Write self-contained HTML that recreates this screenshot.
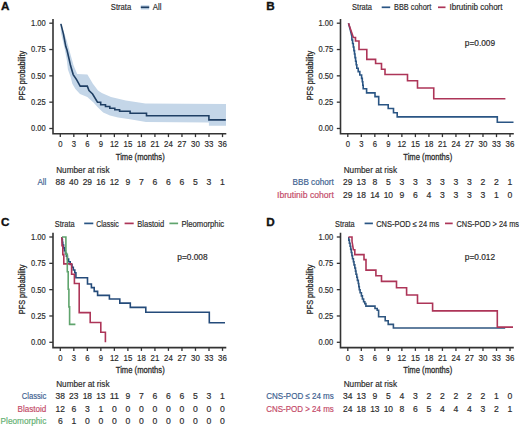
<!DOCTYPE html>
<html><head><meta charset="utf-8"><style>
html,body{margin:0;padding:0;background:#fff;}
body{width:520px;height:426px;overflow:hidden;}
svg{display:block;font-family:"Liberation Sans",sans-serif;}
</style></head><body>
<svg width="520" height="426" viewBox="0 0 520 426">
<rect width="520" height="426" fill="#fff"/>
<text x="1.00" y="9.60" font-size="11.7" fill="#111" font-weight="bold" stroke-width="0.35" stroke="#111">A</text>
<text x="110.80" y="10.40" font-size="8.4" fill="#2b2b2b" textLength="20.40" lengthAdjust="spacingAndGlyphs" stroke="#2b2b2b" stroke-width="0.18">Strata</text>
<rect x="140.80" y="5.20" width="8.40" height="4.4" fill="#c4d6e8"/>
<line x1="140.80" y1="7.30" x2="149.20" y2="7.30" stroke="#1f3f64" stroke-width="1.7"/>
<text x="152.80" y="10.40" font-size="8.4" fill="#2b2b2b" textLength="8.70" lengthAdjust="spacingAndGlyphs" stroke="#2b2b2b" stroke-width="0.18">All</text>
<polygon points="60.60,23.00 62.40,27.90 66.80,40.70 70.80,55.50 73.60,65.50 77.20,74.00 87.40,74.60 92.90,83.70 98.00,90.50 101.80,93.00 111.00,97.10 125.80,100.50 145.40,103.50 226.00,104.00 226.00,125.70 208.90,125.70 208.90,122.40 146.00,122.00 130.00,119.20 118.00,117.40 110.00,115.60 103.20,112.60 97.50,107.00 93.50,102.50 87.30,97.10 80.00,94.00 75.40,88.90 72.30,83.70 70.80,77.50 67.90,69.40 66.80,60.00 64.40,47.60 60.90,32.80 60.50,24.00" fill="#c4d6e8"/>
<path d="M60.9,23.9 L63.4,33.8 L65.8,46.6 L67,50 L69.3,60 L70.6,65.8 L73.2,74.6 L76.7,79.9 L80.2,86.1 H87.3 L89,90.5 L92.6,94 L97.5,102.2 H100.7 V104.8 H105.5 V106.5 H109.8 V108.2 H114.8 V109.8 H119.6 V111.3 H130.1 V113.2 H146.5 V115.7 H208.9 V119.9 H225.8" transform="translate(0,0)" fill="none" stroke="#1f3f64" stroke-width="1.6" stroke-linejoin="miter"/>
<path d="M53.00,19.00 V133.80 H226.30" fill="none" stroke="#333333" stroke-width="1.6"/>
<line x1="49.30" y1="23.20" x2="53.00" y2="23.20" stroke="#333333" stroke-width="1.3"/>
<text x="45.70" y="26.15" font-size="8.8" fill="#2b2b2b" text-anchor="end" textLength="14.70" lengthAdjust="spacingAndGlyphs" stroke="#2b2b2b" stroke-width="0.18">1.00</text>
<line x1="49.30" y1="49.53" x2="53.00" y2="49.53" stroke="#333333" stroke-width="1.3"/>
<text x="45.70" y="52.48" font-size="8.8" fill="#2b2b2b" text-anchor="end" textLength="14.70" lengthAdjust="spacingAndGlyphs" stroke="#2b2b2b" stroke-width="0.18">0.75</text>
<line x1="49.30" y1="75.85" x2="53.00" y2="75.85" stroke="#333333" stroke-width="1.3"/>
<text x="45.70" y="78.80" font-size="8.8" fill="#2b2b2b" text-anchor="end" textLength="14.70" lengthAdjust="spacingAndGlyphs" stroke="#2b2b2b" stroke-width="0.18">0.50</text>
<line x1="49.30" y1="102.17" x2="53.00" y2="102.17" stroke="#333333" stroke-width="1.3"/>
<text x="45.70" y="105.12" font-size="8.8" fill="#2b2b2b" text-anchor="end" textLength="14.70" lengthAdjust="spacingAndGlyphs" stroke="#2b2b2b" stroke-width="0.18">0.25</text>
<line x1="49.30" y1="128.50" x2="53.00" y2="128.50" stroke="#333333" stroke-width="1.3"/>
<text x="45.70" y="131.45" font-size="8.8" fill="#2b2b2b" text-anchor="end" textLength="14.70" lengthAdjust="spacingAndGlyphs" stroke="#2b2b2b" stroke-width="0.18">0.00</text>
<line x1="60.30" y1="133.80" x2="60.30" y2="137.10" stroke="#333333" stroke-width="1.3"/>
<text x="60.30" y="146.80" font-size="8.8" fill="#2b2b2b" text-anchor="middle" textLength="4.30" lengthAdjust="spacingAndGlyphs" stroke="#2b2b2b" stroke-width="0.18">0</text>
<line x1="73.82" y1="133.80" x2="73.82" y2="137.10" stroke="#333333" stroke-width="1.3"/>
<text x="73.82" y="146.80" font-size="8.8" fill="#2b2b2b" text-anchor="middle" textLength="4.30" lengthAdjust="spacingAndGlyphs" stroke="#2b2b2b" stroke-width="0.18">3</text>
<line x1="87.34" y1="133.80" x2="87.34" y2="137.10" stroke="#333333" stroke-width="1.3"/>
<text x="87.34" y="146.80" font-size="8.8" fill="#2b2b2b" text-anchor="middle" textLength="4.30" lengthAdjust="spacingAndGlyphs" stroke="#2b2b2b" stroke-width="0.18">6</text>
<line x1="100.85" y1="133.80" x2="100.85" y2="137.10" stroke="#333333" stroke-width="1.3"/>
<text x="100.85" y="146.80" font-size="8.8" fill="#2b2b2b" text-anchor="middle" textLength="4.30" lengthAdjust="spacingAndGlyphs" stroke="#2b2b2b" stroke-width="0.18">9</text>
<line x1="114.37" y1="133.80" x2="114.37" y2="137.10" stroke="#333333" stroke-width="1.3"/>
<text x="114.37" y="146.80" font-size="8.8" fill="#2b2b2b" text-anchor="middle" textLength="8.80" lengthAdjust="spacingAndGlyphs" stroke="#2b2b2b" stroke-width="0.18">12</text>
<line x1="127.89" y1="133.80" x2="127.89" y2="137.10" stroke="#333333" stroke-width="1.3"/>
<text x="127.89" y="146.80" font-size="8.8" fill="#2b2b2b" text-anchor="middle" textLength="8.80" lengthAdjust="spacingAndGlyphs" stroke="#2b2b2b" stroke-width="0.18">15</text>
<line x1="141.41" y1="133.80" x2="141.41" y2="137.10" stroke="#333333" stroke-width="1.3"/>
<text x="141.41" y="146.80" font-size="8.8" fill="#2b2b2b" text-anchor="middle" textLength="8.80" lengthAdjust="spacingAndGlyphs" stroke="#2b2b2b" stroke-width="0.18">18</text>
<line x1="154.93" y1="133.80" x2="154.93" y2="137.10" stroke="#333333" stroke-width="1.3"/>
<text x="154.93" y="146.80" font-size="8.8" fill="#2b2b2b" text-anchor="middle" textLength="8.80" lengthAdjust="spacingAndGlyphs" stroke="#2b2b2b" stroke-width="0.18">21</text>
<line x1="168.44" y1="133.80" x2="168.44" y2="137.10" stroke="#333333" stroke-width="1.3"/>
<text x="168.44" y="146.80" font-size="8.8" fill="#2b2b2b" text-anchor="middle" textLength="8.80" lengthAdjust="spacingAndGlyphs" stroke="#2b2b2b" stroke-width="0.18">24</text>
<line x1="181.96" y1="133.80" x2="181.96" y2="137.10" stroke="#333333" stroke-width="1.3"/>
<text x="181.96" y="146.80" font-size="8.8" fill="#2b2b2b" text-anchor="middle" textLength="8.80" lengthAdjust="spacingAndGlyphs" stroke="#2b2b2b" stroke-width="0.18">27</text>
<line x1="195.48" y1="133.80" x2="195.48" y2="137.10" stroke="#333333" stroke-width="1.3"/>
<text x="195.48" y="146.80" font-size="8.8" fill="#2b2b2b" text-anchor="middle" textLength="8.80" lengthAdjust="spacingAndGlyphs" stroke="#2b2b2b" stroke-width="0.18">30</text>
<line x1="209.00" y1="133.80" x2="209.00" y2="137.10" stroke="#333333" stroke-width="1.3"/>
<text x="209.00" y="146.80" font-size="8.8" fill="#2b2b2b" text-anchor="middle" textLength="8.80" lengthAdjust="spacingAndGlyphs" stroke="#2b2b2b" stroke-width="0.18">33</text>
<line x1="222.52" y1="133.80" x2="222.52" y2="137.10" stroke="#333333" stroke-width="1.3"/>
<text x="222.52" y="146.80" font-size="8.8" fill="#2b2b2b" text-anchor="middle" textLength="8.80" lengthAdjust="spacingAndGlyphs" stroke="#2b2b2b" stroke-width="0.18">36</text>
<text x="0" y="0" font-size="9.6" fill="#2b2b2b" text-anchor="middle" textLength="49.5" lengthAdjust="spacingAndGlyphs" stroke="#2b2b2b" stroke-width="0.3" transform="translate(25.20,75.60) rotate(-90)">PFS probability</text>
<text x="140.25" y="159.50" font-size="9.6" fill="#2b2b2b" text-anchor="middle" textLength="48.90" lengthAdjust="spacingAndGlyphs" stroke="#2b2b2b" stroke-width="0.3">Time (months)</text>
<text x="56.20" y="173.10" font-size="8.8" fill="#2b2b2b" textLength="53.40" lengthAdjust="spacingAndGlyphs" stroke="#2b2b2b" stroke-width="0.18">Number at risk</text>
<text x="46.30" y="185.10" font-size="8.8" fill="#3d6190" text-anchor="end" textLength="8.90" lengthAdjust="spacingAndGlyphs" stroke="#3d6190" stroke-width="0.18">All</text>
<text x="60.30" y="185.10" font-size="8.8" fill="#2b2b2b" text-anchor="middle" textLength="9.40" lengthAdjust="spacingAndGlyphs" stroke="#2b2b2b" stroke-width="0.18">88</text>
<text x="73.82" y="185.10" font-size="8.8" fill="#2b2b2b" text-anchor="middle" textLength="9.40" lengthAdjust="spacingAndGlyphs" stroke="#2b2b2b" stroke-width="0.18">40</text>
<text x="87.34" y="185.10" font-size="8.8" fill="#2b2b2b" text-anchor="middle" textLength="9.40" lengthAdjust="spacingAndGlyphs" stroke="#2b2b2b" stroke-width="0.18">29</text>
<text x="100.85" y="185.10" font-size="8.8" fill="#2b2b2b" text-anchor="middle" textLength="9.40" lengthAdjust="spacingAndGlyphs" stroke="#2b2b2b" stroke-width="0.18">16</text>
<text x="114.37" y="185.10" font-size="8.8" fill="#2b2b2b" text-anchor="middle" textLength="9.40" lengthAdjust="spacingAndGlyphs" stroke="#2b2b2b" stroke-width="0.18">12</text>
<text x="127.89" y="185.10" font-size="8.8" fill="#2b2b2b" text-anchor="middle" textLength="4.80" lengthAdjust="spacingAndGlyphs" stroke="#2b2b2b" stroke-width="0.18">9</text>
<text x="141.41" y="185.10" font-size="8.8" fill="#2b2b2b" text-anchor="middle" textLength="4.80" lengthAdjust="spacingAndGlyphs" stroke="#2b2b2b" stroke-width="0.18">7</text>
<text x="154.93" y="185.10" font-size="8.8" fill="#2b2b2b" text-anchor="middle" textLength="4.80" lengthAdjust="spacingAndGlyphs" stroke="#2b2b2b" stroke-width="0.18">6</text>
<text x="168.44" y="185.10" font-size="8.8" fill="#2b2b2b" text-anchor="middle" textLength="4.80" lengthAdjust="spacingAndGlyphs" stroke="#2b2b2b" stroke-width="0.18">6</text>
<text x="181.96" y="185.10" font-size="8.8" fill="#2b2b2b" text-anchor="middle" textLength="4.80" lengthAdjust="spacingAndGlyphs" stroke="#2b2b2b" stroke-width="0.18">6</text>
<text x="195.48" y="185.10" font-size="8.8" fill="#2b2b2b" text-anchor="middle" textLength="4.80" lengthAdjust="spacingAndGlyphs" stroke="#2b2b2b" stroke-width="0.18">5</text>
<text x="209.00" y="185.10" font-size="8.8" fill="#2b2b2b" text-anchor="middle" textLength="4.80" lengthAdjust="spacingAndGlyphs" stroke="#2b2b2b" stroke-width="0.18">3</text>
<text x="222.52" y="185.10" font-size="8.8" fill="#2b2b2b" text-anchor="middle" textLength="4.80" lengthAdjust="spacingAndGlyphs" stroke="#2b2b2b" stroke-width="0.18">1</text>
<text x="266.20" y="9.60" font-size="11.7" fill="#111" font-weight="bold" stroke-width="0.35" stroke="#111">B</text>
<text x="352.10" y="10.40" font-size="8.4" fill="#2b2b2b" textLength="19.90" lengthAdjust="spacingAndGlyphs" stroke="#2b2b2b" stroke-width="0.18">Strata</text>
<line x1="381.70" y1="7.30" x2="390.20" y2="7.30" stroke="#2a5584" stroke-width="1.7"/>
<text x="394.00" y="10.40" font-size="8.4" fill="#2b2b2b" textLength="37.25" lengthAdjust="spacingAndGlyphs" stroke="#2b2b2b" stroke-width="0.18">BBB cohort</text>
<line x1="438.00" y1="7.30" x2="445.50" y2="7.30" stroke="#ad3558" stroke-width="1.7"/>
<text x="449.50" y="10.40" font-size="8.4" fill="#2b2b2b" textLength="53.00" lengthAdjust="spacingAndGlyphs" stroke="#2b2b2b" stroke-width="0.18">Ibrutinib cohort</text>
<path d="M 61.00,23.20 L 62.80,30.00 L 64.40,36.60 V 40.00 H 65.10 V 43.50 H 65.80 V 47.00 H 66.40 V 50.60 H 67.00 V 54.00 H 67.50 V 57.60 H 68.10 V 61.20 H 68.70 V 64.80 H 69.30 V 68.20 H 70.70 V 71.60 H 72.30 V 75.00 H 74.10 V 78.40 H 74.80 V 81.80 H 75.30 V 85.20 H 75.70 V 88.80 H 79.10 V 92.90 H 87.50 V 96.60 H 91.20 V 104.80 H 100.70 V 108.50 H 106.00 V 112.80 H 109.70 V 116.90 H 209.80 V 122.30 H 226.00" transform="translate(287.5,0)" fill="none" stroke="#2a5584" stroke-width="1.6" stroke-linejoin="miter"/>
<path d="M 61.00,23.20 L 65.20,35.40 L 65.90,37.50 H 68.00 V 41.00 H 71.50 V 49.50 H 79.30 V 59.40 H 88.10 V 63.50 H 94.00 V 69.20 H 97.50 V 74.50 H 120.00 V 80.75 H 130.00 V 88.00 H 146.25 V 98.70 H 217.90" transform="translate(287.5,0)" fill="none" stroke="#ad3558" stroke-width="1.6" stroke-linejoin="miter"/>
<path d="M340.50,19.00 V133.80 H513.80" fill="none" stroke="#333333" stroke-width="1.6"/>
<line x1="336.80" y1="23.20" x2="340.50" y2="23.20" stroke="#333333" stroke-width="1.3"/>
<text x="333.20" y="26.15" font-size="8.8" fill="#2b2b2b" text-anchor="end" textLength="14.70" lengthAdjust="spacingAndGlyphs" stroke="#2b2b2b" stroke-width="0.18">1.00</text>
<line x1="336.80" y1="49.53" x2="340.50" y2="49.53" stroke="#333333" stroke-width="1.3"/>
<text x="333.20" y="52.48" font-size="8.8" fill="#2b2b2b" text-anchor="end" textLength="14.70" lengthAdjust="spacingAndGlyphs" stroke="#2b2b2b" stroke-width="0.18">0.75</text>
<line x1="336.80" y1="75.85" x2="340.50" y2="75.85" stroke="#333333" stroke-width="1.3"/>
<text x="333.20" y="78.80" font-size="8.8" fill="#2b2b2b" text-anchor="end" textLength="14.70" lengthAdjust="spacingAndGlyphs" stroke="#2b2b2b" stroke-width="0.18">0.50</text>
<line x1="336.80" y1="102.17" x2="340.50" y2="102.17" stroke="#333333" stroke-width="1.3"/>
<text x="333.20" y="105.12" font-size="8.8" fill="#2b2b2b" text-anchor="end" textLength="14.70" lengthAdjust="spacingAndGlyphs" stroke="#2b2b2b" stroke-width="0.18">0.25</text>
<line x1="336.80" y1="128.50" x2="340.50" y2="128.50" stroke="#333333" stroke-width="1.3"/>
<text x="333.20" y="131.45" font-size="8.8" fill="#2b2b2b" text-anchor="end" textLength="14.70" lengthAdjust="spacingAndGlyphs" stroke="#2b2b2b" stroke-width="0.18">0.00</text>
<line x1="347.80" y1="133.80" x2="347.80" y2="137.10" stroke="#333333" stroke-width="1.3"/>
<text x="347.80" y="146.80" font-size="8.8" fill="#2b2b2b" text-anchor="middle" textLength="4.30" lengthAdjust="spacingAndGlyphs" stroke="#2b2b2b" stroke-width="0.18">0</text>
<line x1="361.32" y1="133.80" x2="361.32" y2="137.10" stroke="#333333" stroke-width="1.3"/>
<text x="361.32" y="146.80" font-size="8.8" fill="#2b2b2b" text-anchor="middle" textLength="4.30" lengthAdjust="spacingAndGlyphs" stroke="#2b2b2b" stroke-width="0.18">3</text>
<line x1="374.84" y1="133.80" x2="374.84" y2="137.10" stroke="#333333" stroke-width="1.3"/>
<text x="374.84" y="146.80" font-size="8.8" fill="#2b2b2b" text-anchor="middle" textLength="4.30" lengthAdjust="spacingAndGlyphs" stroke="#2b2b2b" stroke-width="0.18">6</text>
<line x1="388.35" y1="133.80" x2="388.35" y2="137.10" stroke="#333333" stroke-width="1.3"/>
<text x="388.35" y="146.80" font-size="8.8" fill="#2b2b2b" text-anchor="middle" textLength="4.30" lengthAdjust="spacingAndGlyphs" stroke="#2b2b2b" stroke-width="0.18">9</text>
<line x1="401.87" y1="133.80" x2="401.87" y2="137.10" stroke="#333333" stroke-width="1.3"/>
<text x="401.87" y="146.80" font-size="8.8" fill="#2b2b2b" text-anchor="middle" textLength="8.80" lengthAdjust="spacingAndGlyphs" stroke="#2b2b2b" stroke-width="0.18">12</text>
<line x1="415.39" y1="133.80" x2="415.39" y2="137.10" stroke="#333333" stroke-width="1.3"/>
<text x="415.39" y="146.80" font-size="8.8" fill="#2b2b2b" text-anchor="middle" textLength="8.80" lengthAdjust="spacingAndGlyphs" stroke="#2b2b2b" stroke-width="0.18">15</text>
<line x1="428.91" y1="133.80" x2="428.91" y2="137.10" stroke="#333333" stroke-width="1.3"/>
<text x="428.91" y="146.80" font-size="8.8" fill="#2b2b2b" text-anchor="middle" textLength="8.80" lengthAdjust="spacingAndGlyphs" stroke="#2b2b2b" stroke-width="0.18">18</text>
<line x1="442.43" y1="133.80" x2="442.43" y2="137.10" stroke="#333333" stroke-width="1.3"/>
<text x="442.43" y="146.80" font-size="8.8" fill="#2b2b2b" text-anchor="middle" textLength="8.80" lengthAdjust="spacingAndGlyphs" stroke="#2b2b2b" stroke-width="0.18">21</text>
<line x1="455.94" y1="133.80" x2="455.94" y2="137.10" stroke="#333333" stroke-width="1.3"/>
<text x="455.94" y="146.80" font-size="8.8" fill="#2b2b2b" text-anchor="middle" textLength="8.80" lengthAdjust="spacingAndGlyphs" stroke="#2b2b2b" stroke-width="0.18">24</text>
<line x1="469.46" y1="133.80" x2="469.46" y2="137.10" stroke="#333333" stroke-width="1.3"/>
<text x="469.46" y="146.80" font-size="8.8" fill="#2b2b2b" text-anchor="middle" textLength="8.80" lengthAdjust="spacingAndGlyphs" stroke="#2b2b2b" stroke-width="0.18">27</text>
<line x1="482.98" y1="133.80" x2="482.98" y2="137.10" stroke="#333333" stroke-width="1.3"/>
<text x="482.98" y="146.80" font-size="8.8" fill="#2b2b2b" text-anchor="middle" textLength="8.80" lengthAdjust="spacingAndGlyphs" stroke="#2b2b2b" stroke-width="0.18">30</text>
<line x1="496.50" y1="133.80" x2="496.50" y2="137.10" stroke="#333333" stroke-width="1.3"/>
<text x="496.50" y="146.80" font-size="8.8" fill="#2b2b2b" text-anchor="middle" textLength="8.80" lengthAdjust="spacingAndGlyphs" stroke="#2b2b2b" stroke-width="0.18">33</text>
<line x1="510.02" y1="133.80" x2="510.02" y2="137.10" stroke="#333333" stroke-width="1.3"/>
<text x="510.02" y="146.80" font-size="8.8" fill="#2b2b2b" text-anchor="middle" textLength="8.80" lengthAdjust="spacingAndGlyphs" stroke="#2b2b2b" stroke-width="0.18">36</text>
<text x="0" y="0" font-size="9.6" fill="#2b2b2b" text-anchor="middle" textLength="49.5" lengthAdjust="spacingAndGlyphs" stroke="#2b2b2b" stroke-width="0.3" transform="translate(312.70,75.60) rotate(-90)">PFS probability</text>
<text x="427.75" y="159.50" font-size="9.6" fill="#2b2b2b" text-anchor="middle" textLength="48.90" lengthAdjust="spacingAndGlyphs" stroke="#2b2b2b" stroke-width="0.3">Time (months)</text>
<text x="464.80" y="46.40" font-size="8.4" fill="#2b2b2b" textLength="30.30" lengthAdjust="spacingAndGlyphs" stroke="#2b2b2b" stroke-width="0.18">p=0.009</text>
<text x="343.70" y="173.10" font-size="8.8" fill="#2b2b2b" textLength="53.40" lengthAdjust="spacingAndGlyphs" stroke="#2b2b2b" stroke-width="0.18">Number at risk</text>
<text x="333.80" y="185.10" font-size="8.8" fill="#3d6190" text-anchor="end" textLength="41.30" lengthAdjust="spacingAndGlyphs" stroke="#3d6190" stroke-width="0.18">BBB cohort</text>
<text x="347.80" y="185.10" font-size="8.8" fill="#2b2b2b" text-anchor="middle" textLength="9.40" lengthAdjust="spacingAndGlyphs" stroke="#2b2b2b" stroke-width="0.18">29</text>
<text x="361.32" y="185.10" font-size="8.8" fill="#2b2b2b" text-anchor="middle" textLength="9.40" lengthAdjust="spacingAndGlyphs" stroke="#2b2b2b" stroke-width="0.18">13</text>
<text x="374.84" y="185.10" font-size="8.8" fill="#2b2b2b" text-anchor="middle" textLength="4.80" lengthAdjust="spacingAndGlyphs" stroke="#2b2b2b" stroke-width="0.18">8</text>
<text x="388.35" y="185.10" font-size="8.8" fill="#2b2b2b" text-anchor="middle" textLength="4.80" lengthAdjust="spacingAndGlyphs" stroke="#2b2b2b" stroke-width="0.18">5</text>
<text x="401.87" y="185.10" font-size="8.8" fill="#2b2b2b" text-anchor="middle" textLength="4.80" lengthAdjust="spacingAndGlyphs" stroke="#2b2b2b" stroke-width="0.18">3</text>
<text x="415.39" y="185.10" font-size="8.8" fill="#2b2b2b" text-anchor="middle" textLength="4.80" lengthAdjust="spacingAndGlyphs" stroke="#2b2b2b" stroke-width="0.18">3</text>
<text x="428.91" y="185.10" font-size="8.8" fill="#2b2b2b" text-anchor="middle" textLength="4.80" lengthAdjust="spacingAndGlyphs" stroke="#2b2b2b" stroke-width="0.18">3</text>
<text x="442.43" y="185.10" font-size="8.8" fill="#2b2b2b" text-anchor="middle" textLength="4.80" lengthAdjust="spacingAndGlyphs" stroke="#2b2b2b" stroke-width="0.18">3</text>
<text x="455.94" y="185.10" font-size="8.8" fill="#2b2b2b" text-anchor="middle" textLength="4.80" lengthAdjust="spacingAndGlyphs" stroke="#2b2b2b" stroke-width="0.18">3</text>
<text x="469.46" y="185.10" font-size="8.8" fill="#2b2b2b" text-anchor="middle" textLength="4.80" lengthAdjust="spacingAndGlyphs" stroke="#2b2b2b" stroke-width="0.18">3</text>
<text x="482.98" y="185.10" font-size="8.8" fill="#2b2b2b" text-anchor="middle" textLength="4.80" lengthAdjust="spacingAndGlyphs" stroke="#2b2b2b" stroke-width="0.18">2</text>
<text x="496.50" y="185.10" font-size="8.8" fill="#2b2b2b" text-anchor="middle" textLength="4.80" lengthAdjust="spacingAndGlyphs" stroke="#2b2b2b" stroke-width="0.18">2</text>
<text x="510.02" y="185.10" font-size="8.8" fill="#2b2b2b" text-anchor="middle" textLength="4.80" lengthAdjust="spacingAndGlyphs" stroke="#2b2b2b" stroke-width="0.18">1</text>
<text x="333.80" y="197.85" font-size="8.8" fill="#c44a68" text-anchor="end" textLength="56.80" lengthAdjust="spacingAndGlyphs" stroke="#c44a68" stroke-width="0.18">Ibrutinib cohort</text>
<text x="347.80" y="197.85" font-size="8.8" fill="#2b2b2b" text-anchor="middle" textLength="9.40" lengthAdjust="spacingAndGlyphs" stroke="#2b2b2b" stroke-width="0.18">29</text>
<text x="361.32" y="197.85" font-size="8.8" fill="#2b2b2b" text-anchor="middle" textLength="9.40" lengthAdjust="spacingAndGlyphs" stroke="#2b2b2b" stroke-width="0.18">18</text>
<text x="374.84" y="197.85" font-size="8.8" fill="#2b2b2b" text-anchor="middle" textLength="9.40" lengthAdjust="spacingAndGlyphs" stroke="#2b2b2b" stroke-width="0.18">14</text>
<text x="388.35" y="197.85" font-size="8.8" fill="#2b2b2b" text-anchor="middle" textLength="9.40" lengthAdjust="spacingAndGlyphs" stroke="#2b2b2b" stroke-width="0.18">10</text>
<text x="401.87" y="197.85" font-size="8.8" fill="#2b2b2b" text-anchor="middle" textLength="4.80" lengthAdjust="spacingAndGlyphs" stroke="#2b2b2b" stroke-width="0.18">9</text>
<text x="415.39" y="197.85" font-size="8.8" fill="#2b2b2b" text-anchor="middle" textLength="4.80" lengthAdjust="spacingAndGlyphs" stroke="#2b2b2b" stroke-width="0.18">6</text>
<text x="428.91" y="197.85" font-size="8.8" fill="#2b2b2b" text-anchor="middle" textLength="4.80" lengthAdjust="spacingAndGlyphs" stroke="#2b2b2b" stroke-width="0.18">4</text>
<text x="442.43" y="197.85" font-size="8.8" fill="#2b2b2b" text-anchor="middle" textLength="4.80" lengthAdjust="spacingAndGlyphs" stroke="#2b2b2b" stroke-width="0.18">3</text>
<text x="455.94" y="197.85" font-size="8.8" fill="#2b2b2b" text-anchor="middle" textLength="4.80" lengthAdjust="spacingAndGlyphs" stroke="#2b2b2b" stroke-width="0.18">3</text>
<text x="469.46" y="197.85" font-size="8.8" fill="#2b2b2b" text-anchor="middle" textLength="4.80" lengthAdjust="spacingAndGlyphs" stroke="#2b2b2b" stroke-width="0.18">3</text>
<text x="482.98" y="197.85" font-size="8.8" fill="#2b2b2b" text-anchor="middle" textLength="4.80" lengthAdjust="spacingAndGlyphs" stroke="#2b2b2b" stroke-width="0.18">3</text>
<text x="496.50" y="197.85" font-size="8.8" fill="#2b2b2b" text-anchor="middle" textLength="4.80" lengthAdjust="spacingAndGlyphs" stroke="#2b2b2b" stroke-width="0.18">1</text>
<text x="510.02" y="197.85" font-size="8.8" fill="#2b2b2b" text-anchor="middle" textLength="4.80" lengthAdjust="spacingAndGlyphs" stroke="#2b2b2b" stroke-width="0.18">0</text>
<text x="1.00" y="225.70" font-size="11.7" fill="#111" font-weight="bold" stroke-width="0.35" stroke="#111">C</text>
<text x="54.80" y="226.50" font-size="8.4" fill="#2b2b2b" textLength="19.80" lengthAdjust="spacingAndGlyphs" stroke="#2b2b2b" stroke-width="0.18">Strata</text>
<line x1="84.20" y1="223.40" x2="93.30" y2="223.40" stroke="#2a5584" stroke-width="1.7"/>
<text x="96.20" y="226.50" font-size="8.4" fill="#2b2b2b" textLength="22.60" lengthAdjust="spacingAndGlyphs" stroke="#2b2b2b" stroke-width="0.18">Classic</text>
<line x1="124.60" y1="223.40" x2="133.70" y2="223.40" stroke="#ad3558" stroke-width="1.7"/>
<text x="137.30" y="226.50" font-size="8.4" fill="#2b2b2b" textLength="26.90" lengthAdjust="spacingAndGlyphs" stroke="#2b2b2b" stroke-width="0.18">Blastoid</text>
<line x1="169.40" y1="223.40" x2="178.10" y2="223.40" stroke="#5fa46d" stroke-width="1.7"/>
<text x="181.50" y="226.50" font-size="8.4" fill="#2b2b2b" textLength="42.70" lengthAdjust="spacingAndGlyphs" stroke="#2b2b2b" stroke-width="0.18">Pleomorphic</text>
<path d="M 62.00,23.20 V 25.80 H 62.40 V 28.60 H 62.80 V 31.30 H 63.60 V 34.10 H 64.40 V 36.90 H 65.40 V 39.60 H 66.40 V 42.40 H 67.40 V 45.20 H 68.60 V 48.00 H 70.20 V 50.70 H 72.00 V 53.50 H 73.30 V 56.20 H 74.80 V 59.00 H 75.90 V 63.90 H 87.50 V 70.20 H 91.40 V 73.80 H 94.20 V 77.60 H 97.60 V 81.60 H 109.40 V 85.20 H 119.80 V 89.30 H 130.30 V 93.60 H 145.80 V 98.50 H 209.30 V 108.90 H 225.00" transform="translate(0,213.8)" fill="none" stroke="#244b7a" stroke-width="1.6" stroke-linejoin="miter"/>
<path d="M 62.00,23.20 V 32.00 H 62.80 V 40.80 H 63.80 V 50.10 H 71.60 V 60.50 H 74.40 V 69.70 H 79.20 V 98.80 H 90.20 V 108.70 H 100.80 V 118.50 H 105.40 V 128.40" transform="translate(0,213.8)" fill="none" stroke="#ad3558" stroke-width="1.6" stroke-linejoin="miter"/>
<path d="M 62.00,23.20 H 65.90 V 40.50 H 67.30 V 58.00 H 68.20 V 75.50 H 68.90 V 93.10 H 69.60 V 110.60 H 75.40" transform="translate(0,213.8)" fill="none" stroke="#5fa46d" stroke-width="1.6" stroke-linejoin="miter"/>
<path d="M53.00,232.80 V347.60 H226.30" fill="none" stroke="#333333" stroke-width="1.6"/>
<line x1="49.30" y1="237.00" x2="53.00" y2="237.00" stroke="#333333" stroke-width="1.3"/>
<text x="45.70" y="239.95" font-size="8.8" fill="#2b2b2b" text-anchor="end" textLength="14.70" lengthAdjust="spacingAndGlyphs" stroke="#2b2b2b" stroke-width="0.18">1.00</text>
<line x1="49.30" y1="263.33" x2="53.00" y2="263.33" stroke="#333333" stroke-width="1.3"/>
<text x="45.70" y="266.28" font-size="8.8" fill="#2b2b2b" text-anchor="end" textLength="14.70" lengthAdjust="spacingAndGlyphs" stroke="#2b2b2b" stroke-width="0.18">0.75</text>
<line x1="49.30" y1="289.65" x2="53.00" y2="289.65" stroke="#333333" stroke-width="1.3"/>
<text x="45.70" y="292.60" font-size="8.8" fill="#2b2b2b" text-anchor="end" textLength="14.70" lengthAdjust="spacingAndGlyphs" stroke="#2b2b2b" stroke-width="0.18">0.50</text>
<line x1="49.30" y1="315.98" x2="53.00" y2="315.98" stroke="#333333" stroke-width="1.3"/>
<text x="45.70" y="318.93" font-size="8.8" fill="#2b2b2b" text-anchor="end" textLength="14.70" lengthAdjust="spacingAndGlyphs" stroke="#2b2b2b" stroke-width="0.18">0.25</text>
<line x1="49.30" y1="342.30" x2="53.00" y2="342.30" stroke="#333333" stroke-width="1.3"/>
<text x="45.70" y="345.25" font-size="8.8" fill="#2b2b2b" text-anchor="end" textLength="14.70" lengthAdjust="spacingAndGlyphs" stroke="#2b2b2b" stroke-width="0.18">0.00</text>
<line x1="60.30" y1="347.60" x2="60.30" y2="350.90" stroke="#333333" stroke-width="1.3"/>
<text x="60.30" y="360.60" font-size="8.8" fill="#2b2b2b" text-anchor="middle" textLength="4.30" lengthAdjust="spacingAndGlyphs" stroke="#2b2b2b" stroke-width="0.18">0</text>
<line x1="73.82" y1="347.60" x2="73.82" y2="350.90" stroke="#333333" stroke-width="1.3"/>
<text x="73.82" y="360.60" font-size="8.8" fill="#2b2b2b" text-anchor="middle" textLength="4.30" lengthAdjust="spacingAndGlyphs" stroke="#2b2b2b" stroke-width="0.18">3</text>
<line x1="87.34" y1="347.60" x2="87.34" y2="350.90" stroke="#333333" stroke-width="1.3"/>
<text x="87.34" y="360.60" font-size="8.8" fill="#2b2b2b" text-anchor="middle" textLength="4.30" lengthAdjust="spacingAndGlyphs" stroke="#2b2b2b" stroke-width="0.18">6</text>
<line x1="100.85" y1="347.60" x2="100.85" y2="350.90" stroke="#333333" stroke-width="1.3"/>
<text x="100.85" y="360.60" font-size="8.8" fill="#2b2b2b" text-anchor="middle" textLength="4.30" lengthAdjust="spacingAndGlyphs" stroke="#2b2b2b" stroke-width="0.18">9</text>
<line x1="114.37" y1="347.60" x2="114.37" y2="350.90" stroke="#333333" stroke-width="1.3"/>
<text x="114.37" y="360.60" font-size="8.8" fill="#2b2b2b" text-anchor="middle" textLength="8.80" lengthAdjust="spacingAndGlyphs" stroke="#2b2b2b" stroke-width="0.18">12</text>
<line x1="127.89" y1="347.60" x2="127.89" y2="350.90" stroke="#333333" stroke-width="1.3"/>
<text x="127.89" y="360.60" font-size="8.8" fill="#2b2b2b" text-anchor="middle" textLength="8.80" lengthAdjust="spacingAndGlyphs" stroke="#2b2b2b" stroke-width="0.18">15</text>
<line x1="141.41" y1="347.60" x2="141.41" y2="350.90" stroke="#333333" stroke-width="1.3"/>
<text x="141.41" y="360.60" font-size="8.8" fill="#2b2b2b" text-anchor="middle" textLength="8.80" lengthAdjust="spacingAndGlyphs" stroke="#2b2b2b" stroke-width="0.18">18</text>
<line x1="154.93" y1="347.60" x2="154.93" y2="350.90" stroke="#333333" stroke-width="1.3"/>
<text x="154.93" y="360.60" font-size="8.8" fill="#2b2b2b" text-anchor="middle" textLength="8.80" lengthAdjust="spacingAndGlyphs" stroke="#2b2b2b" stroke-width="0.18">21</text>
<line x1="168.44" y1="347.60" x2="168.44" y2="350.90" stroke="#333333" stroke-width="1.3"/>
<text x="168.44" y="360.60" font-size="8.8" fill="#2b2b2b" text-anchor="middle" textLength="8.80" lengthAdjust="spacingAndGlyphs" stroke="#2b2b2b" stroke-width="0.18">24</text>
<line x1="181.96" y1="347.60" x2="181.96" y2="350.90" stroke="#333333" stroke-width="1.3"/>
<text x="181.96" y="360.60" font-size="8.8" fill="#2b2b2b" text-anchor="middle" textLength="8.80" lengthAdjust="spacingAndGlyphs" stroke="#2b2b2b" stroke-width="0.18">27</text>
<line x1="195.48" y1="347.60" x2="195.48" y2="350.90" stroke="#333333" stroke-width="1.3"/>
<text x="195.48" y="360.60" font-size="8.8" fill="#2b2b2b" text-anchor="middle" textLength="8.80" lengthAdjust="spacingAndGlyphs" stroke="#2b2b2b" stroke-width="0.18">30</text>
<line x1="209.00" y1="347.60" x2="209.00" y2="350.90" stroke="#333333" stroke-width="1.3"/>
<text x="209.00" y="360.60" font-size="8.8" fill="#2b2b2b" text-anchor="middle" textLength="8.80" lengthAdjust="spacingAndGlyphs" stroke="#2b2b2b" stroke-width="0.18">33</text>
<line x1="222.52" y1="347.60" x2="222.52" y2="350.90" stroke="#333333" stroke-width="1.3"/>
<text x="222.52" y="360.60" font-size="8.8" fill="#2b2b2b" text-anchor="middle" textLength="8.80" lengthAdjust="spacingAndGlyphs" stroke="#2b2b2b" stroke-width="0.18">36</text>
<text x="0" y="0" font-size="9.6" fill="#2b2b2b" text-anchor="middle" textLength="49.5" lengthAdjust="spacingAndGlyphs" stroke="#2b2b2b" stroke-width="0.3" transform="translate(25.20,289.40) rotate(-90)">PFS probability</text>
<text x="140.25" y="373.30" font-size="9.6" fill="#2b2b2b" text-anchor="middle" textLength="48.90" lengthAdjust="spacingAndGlyphs" stroke="#2b2b2b" stroke-width="0.3">Time (months)</text>
<text x="177.30" y="260.20" font-size="8.4" fill="#2b2b2b" textLength="30.30" lengthAdjust="spacingAndGlyphs" stroke="#2b2b2b" stroke-width="0.18">p=0.008</text>
<text x="56.20" y="386.90" font-size="8.8" fill="#2b2b2b" textLength="53.40" lengthAdjust="spacingAndGlyphs" stroke="#2b2b2b" stroke-width="0.18">Number at risk</text>
<text x="46.30" y="398.90" font-size="8.8" fill="#3d6190" text-anchor="end" textLength="24.60" lengthAdjust="spacingAndGlyphs" stroke="#3d6190" stroke-width="0.18">Classic</text>
<text x="60.30" y="398.90" font-size="8.8" fill="#2b2b2b" text-anchor="middle" textLength="9.40" lengthAdjust="spacingAndGlyphs" stroke="#2b2b2b" stroke-width="0.18">38</text>
<text x="73.82" y="398.90" font-size="8.8" fill="#2b2b2b" text-anchor="middle" textLength="9.40" lengthAdjust="spacingAndGlyphs" stroke="#2b2b2b" stroke-width="0.18">23</text>
<text x="87.34" y="398.90" font-size="8.8" fill="#2b2b2b" text-anchor="middle" textLength="9.40" lengthAdjust="spacingAndGlyphs" stroke="#2b2b2b" stroke-width="0.18">18</text>
<text x="100.85" y="398.90" font-size="8.8" fill="#2b2b2b" text-anchor="middle" textLength="9.40" lengthAdjust="spacingAndGlyphs" stroke="#2b2b2b" stroke-width="0.18">13</text>
<text x="114.37" y="398.90" font-size="8.8" fill="#2b2b2b" text-anchor="middle" textLength="9.40" lengthAdjust="spacingAndGlyphs" stroke="#2b2b2b" stroke-width="0.18">11</text>
<text x="127.89" y="398.90" font-size="8.8" fill="#2b2b2b" text-anchor="middle" textLength="4.80" lengthAdjust="spacingAndGlyphs" stroke="#2b2b2b" stroke-width="0.18">9</text>
<text x="141.41" y="398.90" font-size="8.8" fill="#2b2b2b" text-anchor="middle" textLength="4.80" lengthAdjust="spacingAndGlyphs" stroke="#2b2b2b" stroke-width="0.18">7</text>
<text x="154.93" y="398.90" font-size="8.8" fill="#2b2b2b" text-anchor="middle" textLength="4.80" lengthAdjust="spacingAndGlyphs" stroke="#2b2b2b" stroke-width="0.18">6</text>
<text x="168.44" y="398.90" font-size="8.8" fill="#2b2b2b" text-anchor="middle" textLength="4.80" lengthAdjust="spacingAndGlyphs" stroke="#2b2b2b" stroke-width="0.18">6</text>
<text x="181.96" y="398.90" font-size="8.8" fill="#2b2b2b" text-anchor="middle" textLength="4.80" lengthAdjust="spacingAndGlyphs" stroke="#2b2b2b" stroke-width="0.18">6</text>
<text x="195.48" y="398.90" font-size="8.8" fill="#2b2b2b" text-anchor="middle" textLength="4.80" lengthAdjust="spacingAndGlyphs" stroke="#2b2b2b" stroke-width="0.18">5</text>
<text x="209.00" y="398.90" font-size="8.8" fill="#2b2b2b" text-anchor="middle" textLength="4.80" lengthAdjust="spacingAndGlyphs" stroke="#2b2b2b" stroke-width="0.18">3</text>
<text x="222.52" y="398.90" font-size="8.8" fill="#2b2b2b" text-anchor="middle" textLength="4.80" lengthAdjust="spacingAndGlyphs" stroke="#2b2b2b" stroke-width="0.18">1</text>
<text x="46.30" y="411.65" font-size="8.8" fill="#c44a68" text-anchor="end" textLength="28.80" lengthAdjust="spacingAndGlyphs" stroke="#c44a68" stroke-width="0.18">Blastoid</text>
<text x="60.30" y="411.65" font-size="8.8" fill="#2b2b2b" text-anchor="middle" textLength="9.40" lengthAdjust="spacingAndGlyphs" stroke="#2b2b2b" stroke-width="0.18">12</text>
<text x="73.82" y="411.65" font-size="8.8" fill="#2b2b2b" text-anchor="middle" textLength="4.80" lengthAdjust="spacingAndGlyphs" stroke="#2b2b2b" stroke-width="0.18">6</text>
<text x="87.34" y="411.65" font-size="8.8" fill="#2b2b2b" text-anchor="middle" textLength="4.80" lengthAdjust="spacingAndGlyphs" stroke="#2b2b2b" stroke-width="0.18">3</text>
<text x="100.85" y="411.65" font-size="8.8" fill="#2b2b2b" text-anchor="middle" textLength="4.80" lengthAdjust="spacingAndGlyphs" stroke="#2b2b2b" stroke-width="0.18">1</text>
<text x="114.37" y="411.65" font-size="8.8" fill="#2b2b2b" text-anchor="middle" textLength="4.80" lengthAdjust="spacingAndGlyphs" stroke="#2b2b2b" stroke-width="0.18">0</text>
<text x="127.89" y="411.65" font-size="8.8" fill="#2b2b2b" text-anchor="middle" textLength="4.80" lengthAdjust="spacingAndGlyphs" stroke="#2b2b2b" stroke-width="0.18">0</text>
<text x="141.41" y="411.65" font-size="8.8" fill="#2b2b2b" text-anchor="middle" textLength="4.80" lengthAdjust="spacingAndGlyphs" stroke="#2b2b2b" stroke-width="0.18">0</text>
<text x="154.93" y="411.65" font-size="8.8" fill="#2b2b2b" text-anchor="middle" textLength="4.80" lengthAdjust="spacingAndGlyphs" stroke="#2b2b2b" stroke-width="0.18">0</text>
<text x="168.44" y="411.65" font-size="8.8" fill="#2b2b2b" text-anchor="middle" textLength="4.80" lengthAdjust="spacingAndGlyphs" stroke="#2b2b2b" stroke-width="0.18">0</text>
<text x="181.96" y="411.65" font-size="8.8" fill="#2b2b2b" text-anchor="middle" textLength="4.80" lengthAdjust="spacingAndGlyphs" stroke="#2b2b2b" stroke-width="0.18">0</text>
<text x="195.48" y="411.65" font-size="8.8" fill="#2b2b2b" text-anchor="middle" textLength="4.80" lengthAdjust="spacingAndGlyphs" stroke="#2b2b2b" stroke-width="0.18">0</text>
<text x="209.00" y="411.65" font-size="8.8" fill="#2b2b2b" text-anchor="middle" textLength="4.80" lengthAdjust="spacingAndGlyphs" stroke="#2b2b2b" stroke-width="0.18">0</text>
<text x="222.52" y="411.65" font-size="8.8" fill="#2b2b2b" text-anchor="middle" textLength="4.80" lengthAdjust="spacingAndGlyphs" stroke="#2b2b2b" stroke-width="0.18">0</text>
<text x="46.30" y="424.40" font-size="8.8" fill="#64b072" text-anchor="end" textLength="45.70" lengthAdjust="spacingAndGlyphs" stroke="#64b072" stroke-width="0.18">Pleomorphic</text>
<text x="60.30" y="424.40" font-size="8.8" fill="#2b2b2b" text-anchor="middle" textLength="4.80" lengthAdjust="spacingAndGlyphs" stroke="#2b2b2b" stroke-width="0.18">6</text>
<text x="73.82" y="424.40" font-size="8.8" fill="#2b2b2b" text-anchor="middle" textLength="4.80" lengthAdjust="spacingAndGlyphs" stroke="#2b2b2b" stroke-width="0.18">1</text>
<text x="87.34" y="424.40" font-size="8.8" fill="#2b2b2b" text-anchor="middle" textLength="4.80" lengthAdjust="spacingAndGlyphs" stroke="#2b2b2b" stroke-width="0.18">0</text>
<text x="100.85" y="424.40" font-size="8.8" fill="#2b2b2b" text-anchor="middle" textLength="4.80" lengthAdjust="spacingAndGlyphs" stroke="#2b2b2b" stroke-width="0.18">0</text>
<text x="114.37" y="424.40" font-size="8.8" fill="#2b2b2b" text-anchor="middle" textLength="4.80" lengthAdjust="spacingAndGlyphs" stroke="#2b2b2b" stroke-width="0.18">0</text>
<text x="127.89" y="424.40" font-size="8.8" fill="#2b2b2b" text-anchor="middle" textLength="4.80" lengthAdjust="spacingAndGlyphs" stroke="#2b2b2b" stroke-width="0.18">0</text>
<text x="141.41" y="424.40" font-size="8.8" fill="#2b2b2b" text-anchor="middle" textLength="4.80" lengthAdjust="spacingAndGlyphs" stroke="#2b2b2b" stroke-width="0.18">0</text>
<text x="154.93" y="424.40" font-size="8.8" fill="#2b2b2b" text-anchor="middle" textLength="4.80" lengthAdjust="spacingAndGlyphs" stroke="#2b2b2b" stroke-width="0.18">0</text>
<text x="168.44" y="424.40" font-size="8.8" fill="#2b2b2b" text-anchor="middle" textLength="4.80" lengthAdjust="spacingAndGlyphs" stroke="#2b2b2b" stroke-width="0.18">0</text>
<text x="181.96" y="424.40" font-size="8.8" fill="#2b2b2b" text-anchor="middle" textLength="4.80" lengthAdjust="spacingAndGlyphs" stroke="#2b2b2b" stroke-width="0.18">0</text>
<text x="195.48" y="424.40" font-size="8.8" fill="#2b2b2b" text-anchor="middle" textLength="4.80" lengthAdjust="spacingAndGlyphs" stroke="#2b2b2b" stroke-width="0.18">0</text>
<text x="209.00" y="424.40" font-size="8.8" fill="#2b2b2b" text-anchor="middle" textLength="4.80" lengthAdjust="spacingAndGlyphs" stroke="#2b2b2b" stroke-width="0.18">0</text>
<text x="222.52" y="424.40" font-size="8.8" fill="#2b2b2b" text-anchor="middle" textLength="4.80" lengthAdjust="spacingAndGlyphs" stroke="#2b2b2b" stroke-width="0.18">0</text>
<text x="266.20" y="225.70" font-size="11.7" fill="#111" font-weight="bold" stroke-width="0.35" stroke="#111">D</text>
<text x="335.00" y="226.50" font-size="8.4" fill="#2b2b2b" textLength="19.60" lengthAdjust="spacingAndGlyphs" stroke="#2b2b2b" stroke-width="0.18">Strata</text>
<line x1="364.60" y1="223.40" x2="372.90" y2="223.40" stroke="#2a5584" stroke-width="1.7"/>
<text x="376.20" y="226.50" font-size="8.4" fill="#2b2b2b" textLength="63.00" lengthAdjust="spacingAndGlyphs" stroke="#2b2b2b" stroke-width="0.18">CNS-POD ≤ 24 ms</text>
<line x1="445.00" y1="223.40" x2="452.70" y2="223.40" stroke="#ad3558" stroke-width="1.7"/>
<text x="456.50" y="226.50" font-size="8.4" fill="#2b2b2b" textLength="62.50" lengthAdjust="spacingAndGlyphs" stroke="#2b2b2b" stroke-width="0.18">CNS-POD &gt; 24 ms</text>
<path d="M 61.30,23.20 V 26.30 H 61.90 V 29.40 H 62.60 V 32.50 H 63.20 V 35.60 H 63.80 V 38.70 H 64.40 V 41.80 H 65.00 V 44.90 H 65.90 V 48.00 H 66.50 V 51.10 H 67.30 V 54.20 H 68.00 V 57.30 H 68.50 V 60.40 H 69.30 V 63.50 H 69.90 V 66.60 H 70.80 V 69.70 H 71.30 V 72.80 H 71.80 V 75.90 H 72.60 V 79.00 H 73.90 V 82.10 H 74.90 V 85.20 H 76.10 V 88.00 H 77.30 V 89.80 H 78.40 V 92.30 H 87.50 V 94.70 H 89.70 V 96.40 H 91.10 V 103.00 H 97.70 V 107.00 H 100.70 V 110.60 H 105.90 V 114.20 H 217.70" transform="translate(287.5,213.8)" fill="none" stroke="#2f5680" stroke-width="1.6" stroke-linejoin="miter"/>
<path d="M 61.00,23.20 H 64.50 V 27.50 L 65.90,35.90 H 67.30 V 40.80 H 76.50 V 45.80 H 78.50 V 56.30 H 88.40 V 62.00 H 94.00 V 67.60 H 109.00 V 73.90 H 119.10 V 81.20 H 130.00 V 89.45 H 145.10 V 97.10 H 209.80 V 113.30 H 225.50" transform="translate(287.5,213.8)" fill="none" stroke="#ad3558" stroke-width="1.6" stroke-linejoin="miter"/>
<path d="M340.50,232.80 V347.60 H513.80" fill="none" stroke="#333333" stroke-width="1.6"/>
<line x1="336.80" y1="237.00" x2="340.50" y2="237.00" stroke="#333333" stroke-width="1.3"/>
<text x="333.20" y="239.95" font-size="8.8" fill="#2b2b2b" text-anchor="end" textLength="14.70" lengthAdjust="spacingAndGlyphs" stroke="#2b2b2b" stroke-width="0.18">1.00</text>
<line x1="336.80" y1="263.33" x2="340.50" y2="263.33" stroke="#333333" stroke-width="1.3"/>
<text x="333.20" y="266.28" font-size="8.8" fill="#2b2b2b" text-anchor="end" textLength="14.70" lengthAdjust="spacingAndGlyphs" stroke="#2b2b2b" stroke-width="0.18">0.75</text>
<line x1="336.80" y1="289.65" x2="340.50" y2="289.65" stroke="#333333" stroke-width="1.3"/>
<text x="333.20" y="292.60" font-size="8.8" fill="#2b2b2b" text-anchor="end" textLength="14.70" lengthAdjust="spacingAndGlyphs" stroke="#2b2b2b" stroke-width="0.18">0.50</text>
<line x1="336.80" y1="315.98" x2="340.50" y2="315.98" stroke="#333333" stroke-width="1.3"/>
<text x="333.20" y="318.93" font-size="8.8" fill="#2b2b2b" text-anchor="end" textLength="14.70" lengthAdjust="spacingAndGlyphs" stroke="#2b2b2b" stroke-width="0.18">0.25</text>
<line x1="336.80" y1="342.30" x2="340.50" y2="342.30" stroke="#333333" stroke-width="1.3"/>
<text x="333.20" y="345.25" font-size="8.8" fill="#2b2b2b" text-anchor="end" textLength="14.70" lengthAdjust="spacingAndGlyphs" stroke="#2b2b2b" stroke-width="0.18">0.00</text>
<line x1="347.80" y1="347.60" x2="347.80" y2="350.90" stroke="#333333" stroke-width="1.3"/>
<text x="347.80" y="360.60" font-size="8.8" fill="#2b2b2b" text-anchor="middle" textLength="4.30" lengthAdjust="spacingAndGlyphs" stroke="#2b2b2b" stroke-width="0.18">0</text>
<line x1="361.32" y1="347.60" x2="361.32" y2="350.90" stroke="#333333" stroke-width="1.3"/>
<text x="361.32" y="360.60" font-size="8.8" fill="#2b2b2b" text-anchor="middle" textLength="4.30" lengthAdjust="spacingAndGlyphs" stroke="#2b2b2b" stroke-width="0.18">3</text>
<line x1="374.84" y1="347.60" x2="374.84" y2="350.90" stroke="#333333" stroke-width="1.3"/>
<text x="374.84" y="360.60" font-size="8.8" fill="#2b2b2b" text-anchor="middle" textLength="4.30" lengthAdjust="spacingAndGlyphs" stroke="#2b2b2b" stroke-width="0.18">6</text>
<line x1="388.35" y1="347.60" x2="388.35" y2="350.90" stroke="#333333" stroke-width="1.3"/>
<text x="388.35" y="360.60" font-size="8.8" fill="#2b2b2b" text-anchor="middle" textLength="4.30" lengthAdjust="spacingAndGlyphs" stroke="#2b2b2b" stroke-width="0.18">9</text>
<line x1="401.87" y1="347.60" x2="401.87" y2="350.90" stroke="#333333" stroke-width="1.3"/>
<text x="401.87" y="360.60" font-size="8.8" fill="#2b2b2b" text-anchor="middle" textLength="8.80" lengthAdjust="spacingAndGlyphs" stroke="#2b2b2b" stroke-width="0.18">12</text>
<line x1="415.39" y1="347.60" x2="415.39" y2="350.90" stroke="#333333" stroke-width="1.3"/>
<text x="415.39" y="360.60" font-size="8.8" fill="#2b2b2b" text-anchor="middle" textLength="8.80" lengthAdjust="spacingAndGlyphs" stroke="#2b2b2b" stroke-width="0.18">15</text>
<line x1="428.91" y1="347.60" x2="428.91" y2="350.90" stroke="#333333" stroke-width="1.3"/>
<text x="428.91" y="360.60" font-size="8.8" fill="#2b2b2b" text-anchor="middle" textLength="8.80" lengthAdjust="spacingAndGlyphs" stroke="#2b2b2b" stroke-width="0.18">18</text>
<line x1="442.43" y1="347.60" x2="442.43" y2="350.90" stroke="#333333" stroke-width="1.3"/>
<text x="442.43" y="360.60" font-size="8.8" fill="#2b2b2b" text-anchor="middle" textLength="8.80" lengthAdjust="spacingAndGlyphs" stroke="#2b2b2b" stroke-width="0.18">21</text>
<line x1="455.94" y1="347.60" x2="455.94" y2="350.90" stroke="#333333" stroke-width="1.3"/>
<text x="455.94" y="360.60" font-size="8.8" fill="#2b2b2b" text-anchor="middle" textLength="8.80" lengthAdjust="spacingAndGlyphs" stroke="#2b2b2b" stroke-width="0.18">24</text>
<line x1="469.46" y1="347.60" x2="469.46" y2="350.90" stroke="#333333" stroke-width="1.3"/>
<text x="469.46" y="360.60" font-size="8.8" fill="#2b2b2b" text-anchor="middle" textLength="8.80" lengthAdjust="spacingAndGlyphs" stroke="#2b2b2b" stroke-width="0.18">27</text>
<line x1="482.98" y1="347.60" x2="482.98" y2="350.90" stroke="#333333" stroke-width="1.3"/>
<text x="482.98" y="360.60" font-size="8.8" fill="#2b2b2b" text-anchor="middle" textLength="8.80" lengthAdjust="spacingAndGlyphs" stroke="#2b2b2b" stroke-width="0.18">30</text>
<line x1="496.50" y1="347.60" x2="496.50" y2="350.90" stroke="#333333" stroke-width="1.3"/>
<text x="496.50" y="360.60" font-size="8.8" fill="#2b2b2b" text-anchor="middle" textLength="8.80" lengthAdjust="spacingAndGlyphs" stroke="#2b2b2b" stroke-width="0.18">33</text>
<line x1="510.02" y1="347.60" x2="510.02" y2="350.90" stroke="#333333" stroke-width="1.3"/>
<text x="510.02" y="360.60" font-size="8.8" fill="#2b2b2b" text-anchor="middle" textLength="8.80" lengthAdjust="spacingAndGlyphs" stroke="#2b2b2b" stroke-width="0.18">36</text>
<text x="0" y="0" font-size="9.6" fill="#2b2b2b" text-anchor="middle" textLength="49.5" lengthAdjust="spacingAndGlyphs" stroke="#2b2b2b" stroke-width="0.3" transform="translate(312.70,289.40) rotate(-90)">PFS probability</text>
<text x="427.75" y="373.30" font-size="9.6" fill="#2b2b2b" text-anchor="middle" textLength="48.90" lengthAdjust="spacingAndGlyphs" stroke="#2b2b2b" stroke-width="0.3">Time (months)</text>
<text x="464.80" y="260.20" font-size="8.4" fill="#2b2b2b" textLength="30.30" lengthAdjust="spacingAndGlyphs" stroke="#2b2b2b" stroke-width="0.18">p=0.012</text>
<text x="343.70" y="386.90" font-size="8.8" fill="#2b2b2b" textLength="53.40" lengthAdjust="spacingAndGlyphs" stroke="#2b2b2b" stroke-width="0.18">Number at risk</text>
<text x="333.80" y="398.90" font-size="8.8" fill="#3d6190" text-anchor="end" textLength="67.55" lengthAdjust="spacingAndGlyphs" stroke="#3d6190" stroke-width="0.18">CNS-POD ≤ 24 ms</text>
<text x="347.80" y="398.90" font-size="8.8" fill="#2b2b2b" text-anchor="middle" textLength="9.40" lengthAdjust="spacingAndGlyphs" stroke="#2b2b2b" stroke-width="0.18">34</text>
<text x="361.32" y="398.90" font-size="8.8" fill="#2b2b2b" text-anchor="middle" textLength="9.40" lengthAdjust="spacingAndGlyphs" stroke="#2b2b2b" stroke-width="0.18">13</text>
<text x="374.84" y="398.90" font-size="8.8" fill="#2b2b2b" text-anchor="middle" textLength="4.80" lengthAdjust="spacingAndGlyphs" stroke="#2b2b2b" stroke-width="0.18">9</text>
<text x="388.35" y="398.90" font-size="8.8" fill="#2b2b2b" text-anchor="middle" textLength="4.80" lengthAdjust="spacingAndGlyphs" stroke="#2b2b2b" stroke-width="0.18">5</text>
<text x="401.87" y="398.90" font-size="8.8" fill="#2b2b2b" text-anchor="middle" textLength="4.80" lengthAdjust="spacingAndGlyphs" stroke="#2b2b2b" stroke-width="0.18">4</text>
<text x="415.39" y="398.90" font-size="8.8" fill="#2b2b2b" text-anchor="middle" textLength="4.80" lengthAdjust="spacingAndGlyphs" stroke="#2b2b2b" stroke-width="0.18">3</text>
<text x="428.91" y="398.90" font-size="8.8" fill="#2b2b2b" text-anchor="middle" textLength="4.80" lengthAdjust="spacingAndGlyphs" stroke="#2b2b2b" stroke-width="0.18">2</text>
<text x="442.43" y="398.90" font-size="8.8" fill="#2b2b2b" text-anchor="middle" textLength="4.80" lengthAdjust="spacingAndGlyphs" stroke="#2b2b2b" stroke-width="0.18">2</text>
<text x="455.94" y="398.90" font-size="8.8" fill="#2b2b2b" text-anchor="middle" textLength="4.80" lengthAdjust="spacingAndGlyphs" stroke="#2b2b2b" stroke-width="0.18">2</text>
<text x="469.46" y="398.90" font-size="8.8" fill="#2b2b2b" text-anchor="middle" textLength="4.80" lengthAdjust="spacingAndGlyphs" stroke="#2b2b2b" stroke-width="0.18">2</text>
<text x="482.98" y="398.90" font-size="8.8" fill="#2b2b2b" text-anchor="middle" textLength="4.80" lengthAdjust="spacingAndGlyphs" stroke="#2b2b2b" stroke-width="0.18">2</text>
<text x="496.50" y="398.90" font-size="8.8" fill="#2b2b2b" text-anchor="middle" textLength="4.80" lengthAdjust="spacingAndGlyphs" stroke="#2b2b2b" stroke-width="0.18">1</text>
<text x="510.02" y="398.90" font-size="8.8" fill="#2b2b2b" text-anchor="middle" textLength="4.80" lengthAdjust="spacingAndGlyphs" stroke="#2b2b2b" stroke-width="0.18">0</text>
<text x="333.80" y="411.65" font-size="8.8" fill="#c44a68" text-anchor="end" textLength="67.55" lengthAdjust="spacingAndGlyphs" stroke="#c44a68" stroke-width="0.18">CNS-POD &gt; 24 ms</text>
<text x="347.80" y="411.65" font-size="8.8" fill="#2b2b2b" text-anchor="middle" textLength="9.40" lengthAdjust="spacingAndGlyphs" stroke="#2b2b2b" stroke-width="0.18">24</text>
<text x="361.32" y="411.65" font-size="8.8" fill="#2b2b2b" text-anchor="middle" textLength="9.40" lengthAdjust="spacingAndGlyphs" stroke="#2b2b2b" stroke-width="0.18">18</text>
<text x="374.84" y="411.65" font-size="8.8" fill="#2b2b2b" text-anchor="middle" textLength="9.40" lengthAdjust="spacingAndGlyphs" stroke="#2b2b2b" stroke-width="0.18">13</text>
<text x="388.35" y="411.65" font-size="8.8" fill="#2b2b2b" text-anchor="middle" textLength="9.40" lengthAdjust="spacingAndGlyphs" stroke="#2b2b2b" stroke-width="0.18">10</text>
<text x="401.87" y="411.65" font-size="8.8" fill="#2b2b2b" text-anchor="middle" textLength="4.80" lengthAdjust="spacingAndGlyphs" stroke="#2b2b2b" stroke-width="0.18">8</text>
<text x="415.39" y="411.65" font-size="8.8" fill="#2b2b2b" text-anchor="middle" textLength="4.80" lengthAdjust="spacingAndGlyphs" stroke="#2b2b2b" stroke-width="0.18">6</text>
<text x="428.91" y="411.65" font-size="8.8" fill="#2b2b2b" text-anchor="middle" textLength="4.80" lengthAdjust="spacingAndGlyphs" stroke="#2b2b2b" stroke-width="0.18">5</text>
<text x="442.43" y="411.65" font-size="8.8" fill="#2b2b2b" text-anchor="middle" textLength="4.80" lengthAdjust="spacingAndGlyphs" stroke="#2b2b2b" stroke-width="0.18">4</text>
<text x="455.94" y="411.65" font-size="8.8" fill="#2b2b2b" text-anchor="middle" textLength="4.80" lengthAdjust="spacingAndGlyphs" stroke="#2b2b2b" stroke-width="0.18">4</text>
<text x="469.46" y="411.65" font-size="8.8" fill="#2b2b2b" text-anchor="middle" textLength="4.80" lengthAdjust="spacingAndGlyphs" stroke="#2b2b2b" stroke-width="0.18">4</text>
<text x="482.98" y="411.65" font-size="8.8" fill="#2b2b2b" text-anchor="middle" textLength="4.80" lengthAdjust="spacingAndGlyphs" stroke="#2b2b2b" stroke-width="0.18">3</text>
<text x="496.50" y="411.65" font-size="8.8" fill="#2b2b2b" text-anchor="middle" textLength="4.80" lengthAdjust="spacingAndGlyphs" stroke="#2b2b2b" stroke-width="0.18">2</text>
<text x="510.02" y="411.65" font-size="8.8" fill="#2b2b2b" text-anchor="middle" textLength="4.80" lengthAdjust="spacingAndGlyphs" stroke="#2b2b2b" stroke-width="0.18">1</text>
</svg>
</body></html>
